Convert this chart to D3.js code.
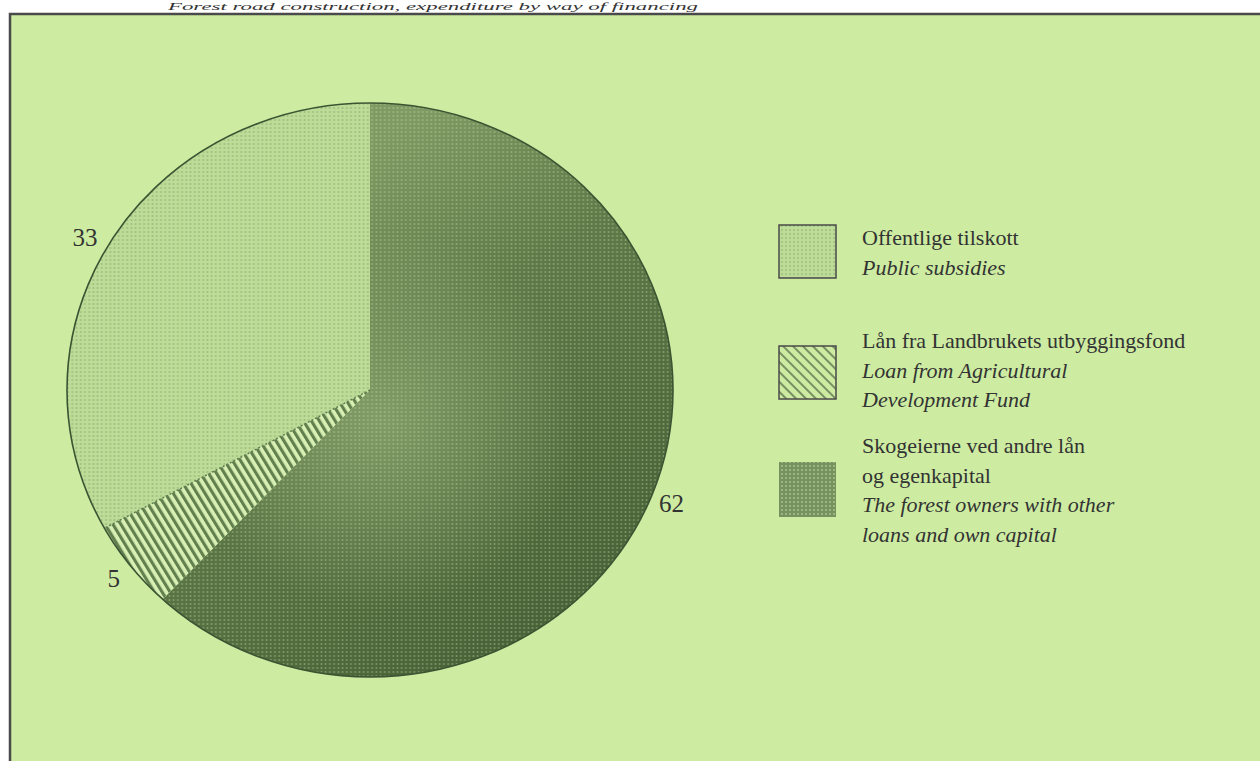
<!DOCTYPE html>
<html>
<head>
<meta charset="utf-8">
<script src="https://cdn.jsdelivr.net/npm/d3@7"></script>
<style>
  html, body { margin: 0; padding: 0; background: #ffffff; }
  svg { display: block; }
  text { font-family: 'Liberation Serif', 'Times New Roman', 'DejaVu Serif', serif; }
</style>
</head>
<body>
<svg id="chart" width="1260" height="761"></svg>
<script>
// ---------- data ----------
const categories = ["Offentlige tilskott", "Lån fra Landbrukets utbyggingsfond", "Skogeierne ved andre  lån og egenkapital"];
const values = [33, 5, 62];
const valueLabels = ["33", "5", "62"];
const legendNorwegian = [["Offentlige tilskott"], ["Lån fra Landbrukets utbyggingsfond"], ["Skogeierne ved andre  lån", "og egenkapital"]];
const legendEnglish = [["Public subsidies"], ["Loan from Agricultural", "Development Fund"], ["The forest owners with other", "loans and own capital"]];
const titleText = "Forest road construction, expenditure by way of financing";

// ---------- layout ----------
const W = 1260, H = 761;
const cx = 370, cy = 390, ry = 287, rx = 303;
const FONT = "'Liberation Serif', 'Times New Roman', 'DejaVu Serif', serif";
const svg = d3.select("#chart");
const defs = svg.append("defs");

// patterns
const pLight = defs.append("pattern").attr("id", "pLight").attr("patternUnits", "userSpaceOnUse")
  .attr("width", 4).attr("height", 4);
pLight.append("rect").attr("width", 4).attr("height", 4).attr("fill", "#bddc97");
pLight.append("circle").attr("cx", 2).attr("cy", 2).attr("r", 0.9).attr("fill", "#8fae72").attr("opacity", 0.7);

const pHatch = defs.append("pattern").attr("id", "pHatch").attr("patternUnits", "userSpaceOnUse")
  .attr("width", 6.5).attr("height", 10).attr("patternTransform", "rotate(-30)");
pHatch.append("rect").attr("width", 6.5).attr("height", 10).attr("fill", "#d8f0b4");
pHatch.append("rect").attr("x", 0).attr("y", 0).attr("width", 3).attr("height", 10)
  .attr("fill", "#627f4e");

const pHatchL = defs.append("pattern").attr("id", "pHatchL").attr("patternUnits", "userSpaceOnUse")
  .attr("width", 7).attr("height", 10).attr("patternTransform", "rotate(-45)");
pHatchL.append("rect").attr("width", 7).attr("height", 10).attr("fill", "#cdeca2");
pHatchL.append("line").attr("x1", 1).attr("y1", 0).attr("x2", 1).attr("y2", 10)
  .attr("stroke", "#4b5e40").attr("stroke-width", 1.3);

const gDark = defs.append("linearGradient").attr("id", "gDark")
  .attr("gradientUnits", "userSpaceOnUse")
  .attr("x1", -40).attr("y1", -220).attr("x2", 260).attr("y2", 220);
gDark.append("stop").attr("offset", 0).attr("stop-color", "#7f9a62");
gDark.append("stop").attr("offset", 0.35).attr("stop-color", "#5f7a48");
gDark.append("stop").attr("offset", 1).attr("stop-color", "#465f35");

const gShade = defs.append("radialGradient").attr("id", "gShade")
  .attr("gradientUnits", "userSpaceOnUse")
  .attr("cx", 10).attr("cy", 30).attr("r", 190);
gShade.append("stop").attr("offset", 0).attr("stop-color", "#9ab57c").attr("stop-opacity", 0.6);
gShade.append("stop").attr("offset", 1).attr("stop-color", "#9ab57c").attr("stop-opacity", 0);

const pDots = defs.append("pattern").attr("id", "pDots").attr("patternUnits", "userSpaceOnUse")
  .attr("width", 4).attr("height", 4);
pDots.append("circle").attr("cx", 2).attr("cy", 2).attr("r", 0.9).attr("fill", "#c8e2ae").attr("opacity", 0.4);

const pLegDark = defs.append("pattern").attr("id", "pLegDark").attr("patternUnits", "userSpaceOnUse")
  .attr("width", 4).attr("height", 4);
pLegDark.append("rect").attr("width", 4).attr("height", 4).attr("fill", "#76925f");
pLegDark.append("circle").attr("cx", 2).attr("cy", 2).attr("r", 1).attr("fill", "#c9e3ad").attr("opacity", 0.6);

// ---------- background & frame ----------
svg.append("rect").attr("x", 10).attr("y", 14).attr("width", W - 10).attr("height", H - 14).attr("fill", "#cdeca2");
svg.append("path").attr("d", `M10,${H} L10,14 L${W},14`).attr("fill", "none")
  .attr("stroke", "#4a4a4a").attr("stroke-width", 2.5);

// title strip above the frame
svg.append("text").attr("x", 168).attr("y", 10)
  .attr("font-family", FONT)
  .attr("font-style", "italic").attr("font-size", 11).attr("fill", "#333")
  .attr("textLength", 530).attr("lengthAdjust", "spacingAndGlyphs")
  .text(titleText);

// ---------- pie ----------
const total = d3.sum(values);
const order = [0, 2, 1]; // clockwise from -33% : subsidies, owners, loan
const pie = d3.pie().sort(null).value(i => values[i])
  .startAngle(-2 * Math.PI * values[0] / total)
  .endAngle(2 * Math.PI - 2 * Math.PI * values[0] / total);
const arcs = pie(order);
const arc = d3.arc().innerRadius(0).outerRadius(ry);
const fills = ["url(#pLight)", "url(#pHatch)", "url(#gDark)"];

const g = svg.append("g").attr("transform", `translate(${cx},${cy}) scale(${rx / ry},1)`);
g.selectAll("path.slice").data(arcs).enter().append("path")
  .attr("class", "slice")
  .attr("d", arc)
  .attr("fill", d => fills[d.data]);

// overlays on dark slice
const darkArc = arcs.find(d => d.data === 2);
g.append("path").attr("d", arc(darkArc)).attr("fill", "url(#gShade)");
g.append("path").attr("d", arc(darkArc)).attr("fill", "url(#pDots)");

// outer outline
g.append("path")
  .attr("d", d3.arc().innerRadius(ry).outerRadius(ry)({ startAngle: 0, endAngle: 2 * Math.PI }))
  .attr("fill", "none").attr("stroke", "#3b5533").attr("stroke-width", 1.6)
  .attr("vector-effect", "non-scaling-stroke");

// boundary between subsidies and loan
const loanArc = arcs.find(d => d.data === 1);
g.append("path")
  .attr("d", `M0,0 L${ry * Math.sin(loanArc.endAngle)},${-ry * Math.cos(loanArc.endAngle)}`)
  .attr("stroke", "#5f7d50").attr("stroke-width", 1.5).attr("stroke-dasharray", "2,2")
  .attr("vector-effect", "non-scaling-stroke");

// value labels
const labelTweak = { 0: { r: 1.08, da: -0.02 }, 1: { r: 1.07, da: 0 }, 2: { r: 1.07, da: 0 } };
arcs.forEach(d => {
  const t = labelTweak[d.data];
  const a = (d.startAngle + d.endAngle) / 2 + t.da;
  svg.append("text")
    .attr("x", cx + rx * t.r * Math.sin(a))
    .attr("y", cy - ry * t.r * Math.cos(a))
    .attr("text-anchor", "middle").attr("dominant-baseline", "central")
    .attr("font-family", FONT)
    .attr("font-size", 25).attr("fill", "#333")
    .text(valueLabels[d.data]);
});

// ---------- legend ----------
const legTop = [225, 346, 462];
const legFills = ["url(#pLight)", "url(#pHatchL)", "url(#pLegDark)"];
const legend = svg.append("g").attr("font-family", FONT)
  .attr("font-size", 22).attr("fill", "#333");
categories.forEach((c, i) => {
  legend.append("rect").attr("x", 779).attr("y", legTop[i]).attr("width", 57).attr("height", i === 2 ? 55 : 53)
    .attr("fill", legFills[i]).attr("stroke", i === 2 ? "none" : "#4a4a4a").attr("stroke-width", 1.5);
});
const textTop = [245, 348, 453];
categories.forEach((c, i) => {
  const lines = legendNorwegian[i].map(t => ({ t, it: false })).concat(legendEnglish[i].map(t => ({ t, it: true })));
  lines.forEach((l, j) => {
    legend.append("text").attr("x", 862).attr("y", textTop[i] + j * 29.5)
      .attr("font-family", FONT)
      .attr("font-style", l.it ? "italic" : "normal").text(l.t);
  });
});
</script>
</body>
</html>
